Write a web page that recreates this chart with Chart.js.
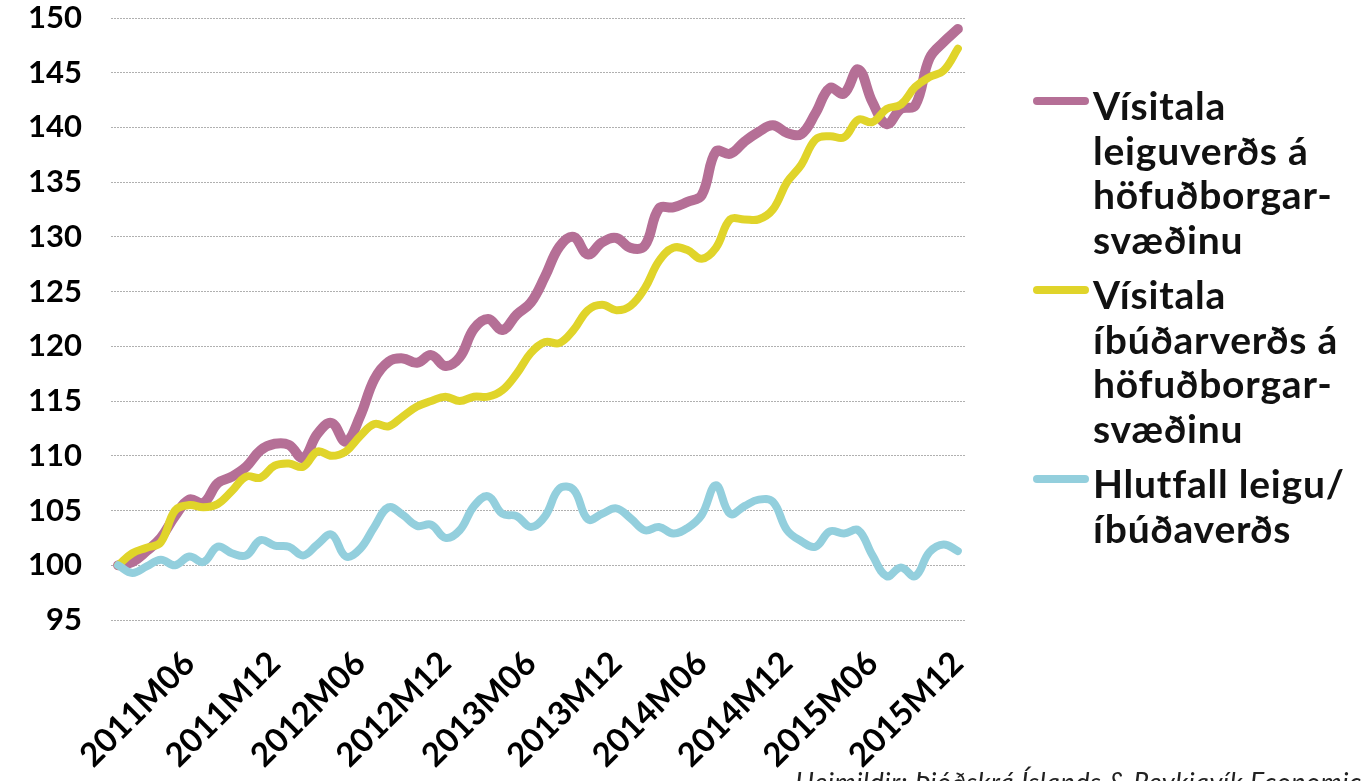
<!DOCTYPE html>
<html lang="is">
<head>
<meta charset="utf-8">
<title>Vísitala leiguverðs og íbúðarverðs</title>
<script src="https://cdn.jsdelivr.net/npm/chart.js@4/dist/chart.umd.min.js"></script>
<style>
  html, body { margin: 0; padding: 0; background: #fff; overflow: hidden; }
  #wrap { position: relative; width: 1363px; height: 781px; overflow: hidden; }
  #chart { position: absolute; left: 0; top: 0; }
  #legend {
    position: absolute; left: 1033px; top: 83px;
    font-family: Lato, "Open Sans", sans-serif; font-weight: 700;
    font-size: 39px; letter-spacing: 0.8px; line-height: 44.5px; color: #111;
  }
  .item { display: flex; align-items: flex-start; margin-bottom: 11px; }
  .swatch { width: 56px; height: 8px; border-radius: 4px; margin-top: 14px; margin-right: 4px; flex: none; }
  #source {
    position: absolute; left: 795px; top: 767px; white-space: nowrap;
    font-family: Lato, sans-serif; font-style: italic; font-size: 27px; letter-spacing: 0.5px;
    line-height: 30px; color: #222;
  }
</style>
</head>
<body>
<div id="wrap">
  <canvas id="chart" width="1363" height="781"></canvas>
  <div id="legend"></div>
  <div id="source">Heimildir: Þjóðskrá Íslands &amp; Reykjavík Economics</div>
</div>
<script>
// Monthly periods 2011M01 – 2015M12
const months = [];
for (let y = 2011; y <= 2015; y++) {
  for (let m = 1; m <= 12; m++) months.push(y + 'M' + String(m).padStart(2, '0'));
}

// Rent price index, capital area (2011M01 = 100)
const rentIndex = [
  100.0, 100.3, 101.3, 102.5, 104.5, 106.0, 105.7, 107.5, 108.1, 109.0, 110.5, 111.1,
  111.0, 109.8, 112.0, 113.0, 111.3, 113.6, 117.0, 118.6, 118.9, 118.5, 119.2, 118.2,
  119.0, 121.6, 122.5, 121.5, 122.9, 124.0, 126.4, 129.1, 130.0, 128.4, 129.5, 129.9,
  129.0, 129.2, 132.6, 132.7, 133.2, 133.8, 137.8, 137.6, 138.7, 139.6, 140.2, 139.5,
  139.4, 141.3, 143.6, 143.1, 145.3, 142.3, 140.3, 141.7, 142.0, 146.3, 147.8, 149.0
];

// Residential property price index, capital area (2011M01 = 100)
const houseIndex = [
  100.0, 101.1, 101.6, 102.1, 105.0, 105.5, 105.3, 105.6, 106.8, 108.1, 108.0, 109.1,
  109.3, 109.0, 110.4, 110.0, 110.4, 111.8, 112.9, 112.7, 113.6, 114.5, 115.0, 115.4,
  115.0, 115.4, 115.4, 116.0, 117.5, 119.4, 120.4, 120.3, 121.5, 123.3, 123.8, 123.3,
  123.7, 125.3, 127.8, 129.0, 128.8, 128.0, 129.0, 131.6, 131.6, 131.6, 132.5, 135.0,
  136.6, 138.9, 139.2, 139.1, 140.7, 140.5, 141.7, 142.1, 143.7, 144.6, 145.2, 147.2
];

// Ratio of rent to property prices
const ratioIndex = [
  100.0, 99.3, 99.9, 100.5, 100.0, 100.8, 100.3, 101.7, 101.1, 100.9, 102.3, 101.8,
  101.7, 100.9, 101.9, 102.8, 100.8, 101.5, 103.5, 105.3, 104.6, 103.6, 103.7, 102.5,
  103.2, 105.4, 106.3, 104.7, 104.5, 103.5, 104.5, 107.0, 106.9, 104.2, 104.7, 105.2,
  104.3, 103.2, 103.5, 102.9, 103.4, 104.6, 107.3, 104.7, 105.4, 106.0, 105.8, 103.2,
  102.2, 101.7, 103.1, 102.9, 103.2, 100.9, 99.0, 99.8, 99.0, 101.2, 101.9, 101.3
];

// Legend text, broken into lines
const seriesNames = [
  ['Vísitala', 'leiguverðs á', 'höfuðborgar-', 'svæðinu'],
  ['Vísitala', 'íbúðarverðs á', 'höfuðborgar-', 'svæðinu'],
  ['Hlutfall leigu/', 'íbúðaverðs']
];
const seriesColors = ['#b56f96', '#e0d42a', '#93cfdd'];

const yMin = 95, yMax = 150, yStep = 5;

const datasets = [rentIndex, houseIndex, ratioIndex].map((values, i) => ({
  label: seriesNames[i].join(' '),
  data: values,
  borderColor: seriesColors[i],
  backgroundColor: seriesColors[i],
  borderWidth: i === 0 ? 10 : 8,
  order: 2 - i,
  pointRadius: 0,
  tension: 0.4,
  borderCapStyle: 'round',
  borderJoinStyle: 'round',
  fill: false
}));

const yFont = { family: 'Lato, "Open Sans", sans-serif', weight: '700', size: 31 };
const xFont = { family: 'Lato, "Open Sans", sans-serif', weight: '700', size: 33 };

new Chart(document.getElementById('chart'), {
  type: 'line',
  data: { labels: months, datasets },
  options: {
    responsive: false,
    animation: false,
    layout: { padding: { top: 18, right: 398, left: 0, bottom: 0 } },
    plugins: { legend: { display: false }, tooltip: { enabled: false } },
    scales: {
      x: {
        offset: true,
        grid: { display: false, drawTicks: false },
        border: { display: false },
        ticks: {
          autoSkip: false,
          minRotation: 45,
          maxRotation: 45,
          padding: 24,
          color: '#000',
          font: xFont,
          callback: function (value) {
            const lab = months[value];
            return (lab.endsWith('M06') || lab.endsWith('M12')) ? lab : '';
          }
        },
        afterFit: function (scale) {
          scale.height = 161;
          scale.paddingLeft = 0;
          scale.paddingRight = 0;
        }
      },
      y: {
        min: yMin,
        max: yMax,
        grid: { color: '#b0b0b0', lineWidth: 1, drawTicks: false },
        border: { display: false, dash: [2, 1] },
        ticks: {
          stepSize: yStep,
          padding: 29,
          color: '#000',
          font: yFont
        },
        afterFit: function (scale) {
          scale.width = 111;
          scale.paddingTop = 0;
          scale.paddingBottom = 0;
        }
      }
    }
  }
});

// Legend built from the series names and colours
const legend = document.getElementById('legend');
seriesNames.forEach((lines, i) => {
  const item = document.createElement('div');
  item.className = 'item';
  const sw = document.createElement('span');
  sw.className = 'swatch';
  sw.style.background = seriesColors[i];
  const txt = document.createElement('div');
  txt.innerHTML = lines.join('<br>');
  item.appendChild(sw);
  item.appendChild(txt);
  legend.appendChild(item);
});
</script>
</body>
</html>
